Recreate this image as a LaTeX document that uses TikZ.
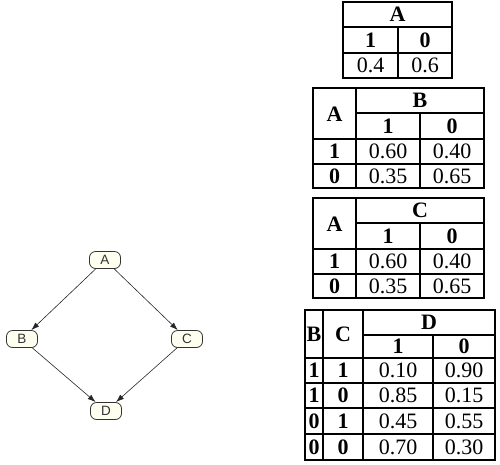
\documentclass[tikz,border=0pt]{standalone}
\usepackage{fontspec}
\setmainfont{Liberation Serif}
\newfontfamily\nodefont{Liberation Sans}
\usetikzlibrary{arrows.meta}
\definecolor{cream}{HTML}{FFFFF0}
\begin{document}
\begin{tikzpicture}[x=1pt,y=-1pt]
\useasboundingbox (0,0) rectangle (500,464);
\tikzset{
 tline/.style={line width=1.6pt, black, line join=miter},
 hd/.style={font=\fontsize{22}{22}\selectfont\bfseries, inner sep=0, text height=14.8pt, text depth=0pt},
 val/.style={font=\fontsize{22}{22}\selectfont, inner sep=0, text height=14.8pt, text depth=0pt},
 bn/.style={draw=black!80, fill=cream, line width=0.8pt, rounded corners=6pt, minimum width=31pt, minimum height=17pt, inner sep=0, text height=9.5pt, text depth=0pt, font=\nodefont\fontsize{13.5}{13.5}\selectfont, text=black!80},
 arr/.style={draw=black!85, line width=0.6pt, -{Latex[length=8pt,width=5.5pt]}},
}
% ---------- graph ----------
\node[bn] (nA) at (105,260) {A};
\node[bn] (nB) at (22,339) {B};
\node[bn] (nC) at (187,339) {C};
\node[bn] (nD) at (106,411) {D};
\draw[arr] (nA) -- (nB);
\draw[arr] (nA) -- (nC);
\draw[arr] (nB) -- (nD);
\draw[arr] (nC) -- (nD);
% ---------- table A ----------
\draw[tline] (343,2) rectangle (452,78);
\draw[tline] (343,27) -- (452,27) (343,53) -- (452,53) (398,27) -- (398,78);
\node[hd] (tAh) at (397.5,14.5) {A};
\node[hd] (tA1) at (370.5,40) {1};
\node[hd] (tA0) at (425,40) {0};
\node[val] (tAv1) at (370.5,65.5) {0.4};
\node[val] (tAv0) at (425,65.5) {0.6};
% ---------- table B ----------
\draw[tline] (313,88) rectangle (484,188);
\draw[tline] (356,88) -- (356,188) (356,113) -- (484,113) (313,139) -- (484,139) (313,164) -- (484,164) (420,113) -- (420,188);
\node[hd] (tBa) at (334.5,114) {A};
\node[hd] (tBh) at (420,100.5) {B};
\node[hd] (tB1) at (388,126) {1};
\node[hd] (tB0) at (452,126) {0};
\node[hd] (tBr1) at (334.5,151.5) {1};
\node[val] (tB11) at (388,151.5) {0.60};
\node[val] (tB10) at (452,151.5) {0.40};
\node[hd] (tBr0) at (334.5,176) {0};
\node[val] (tB01) at (388,176) {0.35};
\node[val] (tB00) at (452,176) {0.65};
% ---------- table C ----------
\draw[tline] (313,198) rectangle (484,298);
\draw[tline] (356,198) -- (356,298) (356,223) -- (484,223) (313,249) -- (484,249) (313,274) -- (484,274) (420,223) -- (420,298);
\node[hd] (tCa) at (334.5,224) {A};
\node[hd] (tCh) at (420,210.5) {C};
\node[hd] (tC1) at (388,236) {1};
\node[hd] (tC0) at (452,236) {0};
\node[hd] (tCr1) at (334.5,261.5) {1};
\node[val] (tC11) at (388,261.5) {0.60};
\node[val] (tC10) at (452,261.5) {0.40};
\node[hd] (tCr0) at (334.5,286) {0};
\node[val] (tC01) at (388,286) {0.35};
\node[val] (tC00) at (452,286) {0.65};
% ---------- table D ----------
\draw[tline] (305,310) rectangle (495,460);
\draw[tline] (323,310) -- (323,460) (363,310) -- (363,460) (363,335) -- (495,335) (433,335) -- (433,460);
\draw[tline] (305,358) -- (495,358) (305,383) -- (495,383) (305,408) -- (495,408) (305,434) -- (495,434);
\node[hd] (tDb) at (314,334) {B};
\node[hd] (tDc) at (343,334) {C};
\node[hd] (tDh) at (429,322.5) {D};
\node[hd] (tD1) at (398,346.5) {1};
\node[hd] (tD0) at (464,346.5) {0};
\node[hd] (r1b) at (314,370.5) {1};
\node[hd] (r1c) at (343,370.5) {1};
\node[val] (r1x) at (398,370.5) {0.10};
\node[val] (r1y) at (464,370.5) {0.90};
\node[hd] (r2b) at (314,395.5) {1};
\node[hd] (r2c) at (343,395.5) {0};
\node[val] (r2x) at (398,395.5) {0.85};
\node[val] (r2y) at (464,395.5) {0.15};
\node[hd] (r3b) at (314,421) {0};
\node[hd] (r3c) at (343,421) {1};
\node[val] (r3x) at (398,421) {0.45};
\node[val] (r3y) at (464,421) {0.55};
\node[hd] (r4b) at (314,447) {0};
\node[hd] (r4c) at (343,447) {0};
\node[val] (r4x) at (398,447) {0.70};
\node[val] (r4y) at (464,447) {0.30};
\end{tikzpicture}
\end{document}
